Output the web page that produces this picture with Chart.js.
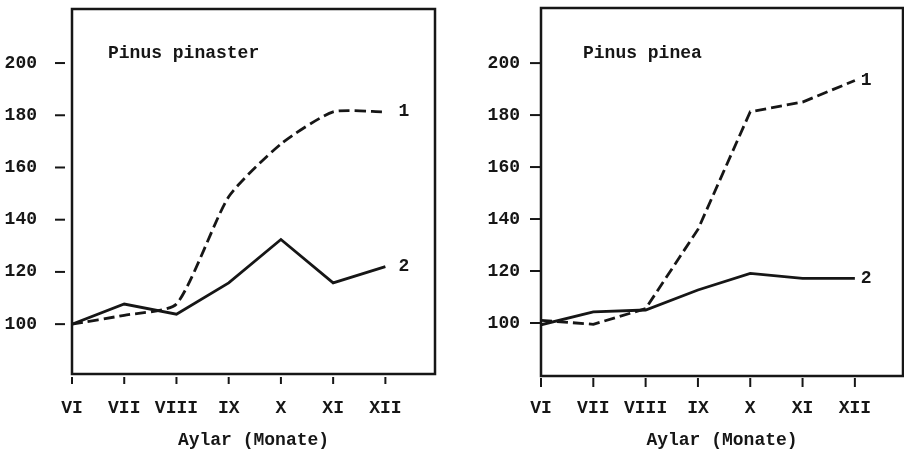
<!DOCTYPE html>
<html>
<head>
<meta charset="utf-8">
<script src="https://cdn.jsdelivr.net/npm/chart.js@4"></script>
<style>
  html, body { margin: 0; padding: 0; background: #fff; }
  #wrap { position: relative; width: 904px; height: 453px; overflow: hidden; }
  canvas { position: absolute; top: 0; }
</style>
</head>
<body>
<div id="wrap">
  <canvas id="left" width="452" height="453" style="left:0"></canvas>
  <canvas id="right" width="452" height="453" style="left:452px"></canvas>
</div>
<script>
// values (index = 100 at VI)
const months = ['VI', 'VII', 'VIII', 'IX', 'X', 'XI', 'XII'];
const yTicks = [100, 120, 140, 160, 180, 200];
const curveNames = ['1', '2'];
const pinasterCurve1 = [100, 103.4, 107.7, 148.8, 169, 181.3, 181.3];
const pinasterCurve2 = [100, 107.7, 103.8, 115.8, 132.4, 115.8, 122];
const pineaCurve1 = [101, 99.5, 105.5, 136, 181.3, 185, 193.3];
const pineaCurve2 = [99.3, 104.3, 105, 112.7, 119.1, 117.2, 117.2];

const ink = '#161616';
const FONT = { family: '"Liberation Mono", "DejaVu Sans Mono", monospace', size: 18, weight: 'bold', lineHeight: 1.2 };

const points = arr => arr.map((v, i) => ({ x: i, y: v }));

// box, tick dashes, panel name and curve numbers
const frame = {
  id: 'frame',
  afterDraw(chart, args, o) {
    const { ctx, chartArea: a, scales: { x, y } } = chart;
    ctx.save();
    ctx.strokeStyle = ink;
    ctx.lineWidth = 2.5;
    ctx.strokeRect(a.left, a.top, a.right - a.left, a.bottom - a.top);
    ctx.lineWidth = 2;
    yTicks.forEach(v => {
      const py = y.getPixelForValue(v);
      ctx.beginPath();
      ctx.moveTo(a.left - o.yTick[0], py);
      ctx.lineTo(a.left - o.yTick[1], py);
      ctx.stroke();
    });
    months.forEach((m, i) => {
      const px = x.getPixelForValue(i);
      ctx.beginPath();
      ctx.moveTo(px, a.bottom + o.xTick[0]);
      ctx.lineTo(px, a.bottom + o.xTick[1]);
      ctx.stroke();
    });
    ctx.fillStyle = ink;
    ctx.font = 'bold 18px ' + FONT.family;
    ctx.textBaseline = 'middle';
    ctx.textAlign = 'left';
    ctx.fillText(o.title, o.titleX, o.titleY);
    chart.data.datasets.forEach((ds, k) => {
      const last = ds.data[ds.data.length - 1];
      ctx.fillText(curveNames[k], x.getPixelForValue(last.x) + o.endGap, y.getPixelForValue(last.y));
    });
    ctx.restore();
  }
};

function noPad(s) {
  s.paddingTop = 0; s.paddingBottom = 0; s.paddingLeft = 0; s.paddingRight = 0;
}

function panel(id, c1, c2, g) {
  return new Chart(document.getElementById(id), {
    type: 'line',
    data: {
      datasets: [
        { data: points(c1), borderColor: ink, borderWidth: 2.8, borderDash: [11, 5], pointRadius: 0, tension: g.tension },
        { data: points(c2), borderColor: ink, borderWidth: 2.8, pointRadius: 0, tension: 0 }
      ]
    },
    options: {
      responsive: false,
      animation: false,
      layout: { padding: { top: g.top, right: g.right, left: 0, bottom: 0 } },
      plugins: {
        legend: { display: false },
        tooltip: { enabled: false },
        frame: g.frame
      },
      scales: {
        x: {
          type: 'linear',
          min: 0,
          max: g.xMax,
          grid: { display: false },
          border: { display: false },
          afterBuildTicks: s => { s.ticks = months.map((m, i) => ({ value: i })); },
          afterFit: s => { s.height = 453 - g.bottom; noPad(s); },
          ticks: {
            autoSkip: false, maxRotation: 0, padding: g.xPad, color: ink, font: FONT,
            callback: v => months[v]
          },
          title: { display: true, text: 'Aylar (Monate)', color: ink, font: FONT, padding: { top: 0, bottom: 2 } }
        },
        y: {
          min: g.yMin,
          max: g.yMax,
          grid: { display: false },
          border: { display: false },
          afterBuildTicks: s => { s.ticks = yTicks.map(v => ({ value: v })); },
          afterFit: s => { s.width = g.left; noPad(s); },
          ticks: { padding: g.yPad, color: ink, font: FONT }
        }
      }
    },
    plugins: [frame]
  });
}

panel('left', pinasterCurve1, pinasterCurve2, {
  top: 9, right: 17, left: 72, bottom: 374, xMax: 6.95, yMin: 80.9, yMax: 220.7,
  xPad: 16, yPad: 27, tension: 0.2,
  frame: { title: 'Pinus pinaster', titleX: 108, titleY: 53, endGap: 13, yTick: [17, 7], xTick: [3, 10] }
});

panel('right', pineaCurve1, pineaCurve2, {
  top: 8, right: 1, left: 89, bottom: 376, xMax: 6.92, yMin: 79.6, yMax: 221.2,
  xPad: 14, yPad: 13, tension: 0,
  frame: { title: 'Pinus pinea', titleX: 131, titleY: 53, endGap: 6, yTick: [11, 1], xTick: [2, 11] }
});
</script>
</body>
</html>
